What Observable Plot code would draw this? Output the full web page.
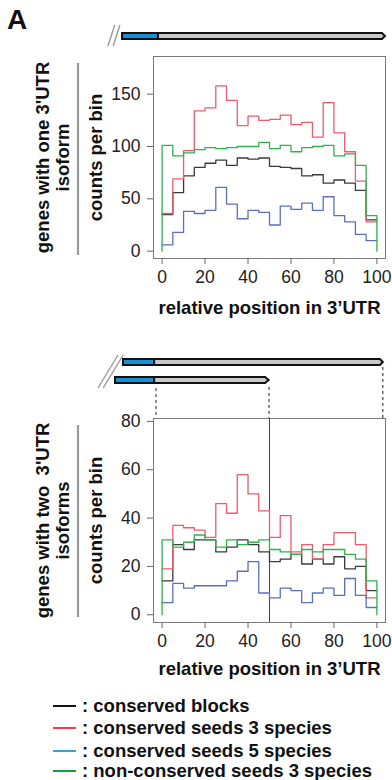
<!DOCTYPE html>
<html>
<head>
<meta charset="utf-8">
<script src="https://cdn.jsdelivr.net/npm/d3@7"></script>
<script src="https://cdn.jsdelivr.net/npm/@observablehq/plot@0.6"></script>
<style>
  html, body { margin: 0; padding: 0; background: #fff; }
  #root { position: relative; width: 392px; height: 780px; overflow: hidden;
          font-family: "Liberation Sans", Arial, Helvetica, sans-serif; color: #111; }
  .abs { position: absolute; }
  #panelA { left: 7px; top: 6px; font-size: 28px; font-weight: bold; line-height: 1; }
  .legrow { position: absolute; left: 53px; display: flex; align-items: center;
            font-size: 18.5px; font-weight: bold; white-space: nowrap; height: 22px; }
  .legline { width: 23px; height: 2px; margin-right: 6px; }
</style>
</head>
<body>
<div id="root">
  <div id="panelA" class="abs">A</div>
  <div id="topPlot" class="abs" style="left:0;top:0"></div>
  <div id="botPlot" class="abs" style="left:0;top:330px"></div>
  <div id="legend"></div>
</div>
<script>
// ---------- data ----------
const binStart = [0, 5, 10, 15, 20, 25, 30, 35, 40, 45, 50, 55, 60, 65, 70, 75, 80, 85, 90, 95];
const binEnd = 100;

const seriesNames = ["conserved blocks", "conserved seeds 3 species", "conserved seeds 5 species", "non-conserved seeds 3 species"];
const lineColors = ["#3a3a3a", "#f25a6a", "#5b6fc2", "#2db24c"];
const legendColors = ["#111111", "#f03c4c", "#2ea6e2", "#10a040"];

// genes with one 3'UTR isoform
const oneBlocks = [35, 56, 72, 80, 84, 87, 82, 89, 88, 89, 81, 80, 79, 72, 73, 65, 68, 65, 58, 30];
const oneSeeds3 = [36, 69, 96, 134, 137, 158, 144, 120, 129, 125, 126, 130, 121, 123, 109, 142, 113, 95, 67, 28];
const oneSeeds5 = [6, 18, 38, 36, 39, 61, 45, 31, 39, 37, 25, 43, 40, 46, 39, 52, 34, 28, 16, 10];
const oneNonCons = [101, 91, 94, 97, 99, 98, 99, 100, 100, 104, 98, 101, 95, 99, 100, 101, 91, 93, 82, 34];

// genes with two 3'UTR isoforms
const twoBlocks = [14, 29, 27, 31, 31, 26, 28, 31, 29, 26, 22, 23, 25, 21, 23, 21, 24, 19, 20, 10];
const twoSeeds3 = [19, 37, 36, 35, 32, 46, 42, 58, 50, 43, 32, 41, 26, 29, 23, 29, 34, 34, 29, 7];
const twoSeeds5 = [5, 13, 11, 12, 12, 12, 14, 18, 22, 9, 7, 11, 10, 5, 9, 11, 8, 15, 8, 3];
const twoNonCons = [31, 28, 30, 33, 31, 28, 31, 29, 30, 31, 27, 26, 25, 27, 26, 27, 27, 25, 23, 14];

const xTicks = [0, 20, 40, 60, 80, 100];
const yTicksOne = [0, 50, 100, 150];
const yTicksTwo = [0, 20, 40, 60, 80];
const xLabel = "relative position in 3\u2019UTR";
const yLabel = "counts per bin";
const groupOne = ["genes with one 3'UTR", "isoform"];
const groupTwo = ["genes with two  3'UTR", "isoforms"];
const isoformSplit = 50;

// ---------- helpers ----------
function steps(values, name, closeToZero) {
  const rows = [];
  if (closeToZero) rows.push({x: binStart[0], y: 0, s: name});
  values.forEach((v, i) => rows.push({x: binStart[i], y: v, s: name}));
  rows.push({x: binEnd, y: values[values.length - 1], s: name});
  if (closeToZero) rows.push({x: binEnd, y: 0, s: name});
  return rows;
}
function panelData(arrs) {
  return arrs.flatMap((a, k) => steps(a, seriesNames[k], k === 3));
}

const FONT = "'Liberation Sans', Arial, Helvetica, sans-serif";

// gene model drawing (in x-data units; vertical offsets relative to the frame top)
function geneModel(bars, slashes, dashes) {
  return (index, scales, values, dims) => {
    const x = scales.x;
    const t = dims.marginTop;
    const g = d3.create("svg:g");
    for (const s of slashes) {
      g.append("line").attr("x1", x(s[0])).attr("y1", t + s[1]).attr("x2", x(s[2])).attr("y2", t + s[3])
        .attr("stroke", "#9a9a9a").attr("stroke-width", 1.4);
    }
    for (const d of dashes) {
      g.append("line").attr("x1", x(d[0])).attr("x2", x(d[0])).attr("y1", t + d[1]).attr("y2", t)
        .attr("stroke", "#222").attr("stroke-width", 1).attr("stroke-dasharray", "3,3");
    }
    for (const b of bars) {
      const [xs, xb, xg, xt, yo] = b;
      const y0 = t + yo, y1 = y0 + 6, ym = y0 + 3;
      g.append("path")
        .attr("d", `M${x(xb)},${y0}L${x(xg)},${y0}L${x(xt)},${ym}L${x(xg)},${y1}L${x(xb)},${y1}Z`)
        .attr("fill", "#c8c8c8").attr("stroke", "#111").attr("stroke-width", 2).attr("stroke-linejoin", "miter");
      g.append("rect").attr("x", x(xs)).attr("y", y0).attr("width", x(xb) - x(xs)).attr("height", 6)
        .attr("fill", "#1a8fd2").attr("stroke", "#111").attr("stroke-width", 2);
    }
    return g.node();
  };
}
// vertical gray separator next to the group label
function separator(offTop, offBottom) {
  return (index, scales, values, dims) => {
    const g = d3.create("svg:g");
    g.append("line").attr("x1", 78).attr("x2", 78)
      .attr("y1", dims.marginTop + offTop).attr("y2", dims.height - dims.marginBottom - offBottom)
      .attr("stroke", "#999").attr("stroke-width", 2.2);
    return g.node();
  };
}

const labelStyle = {frameAnchor: "left", textAnchor: "middle", rotate: -90, lineAnchor: "bottom",
  fontWeight: "bold", fontSize: 18.5, fill: "#111"};

function panel(opts) {
  const data = panelData(opts.series);
  return Plot.plot({
    width: 392,
    height: opts.height,
    marginTop: opts.marginTop,
    marginBottom: opts.marginBottom,
    marginLeft: 153,
    marginRight: 7,
    style: {background: "transparent", fontFamily: FONT, fontSize: "17.5px", overflow: "visible", color: "#222"},
    x: {domain: [-4, 104]},
    y: {domain: opts.yDomain},
    marks: [
      Plot.frame({stroke: "#7a7a7a", strokeWidth: 1}),
      ...(opts.split ? [Plot.ruleX([opts.split], {stroke: "#444", strokeWidth: 1})] : []),
      Plot.axisX(xTicks, {label: null, tickSize: 6, tickPadding: 6, stroke: "#666", fill: "#222"}),
      Plot.axisY(opts.yTicks, {label: null, tickSize: 6, tickPadding: 7, stroke: "#666", fill: "#222"}),
      Plot.line(data, {x: "x", y: "y", z: "s", stroke: (d) => lineColors[seriesNames.indexOf(d.s)],
        curve: "step-after", strokeWidth: 1.3}),
      Plot.text([xLabel], {frameAnchor: "bottom", dy: opts.xLabelDy, lineAnchor: "bottom",
        fontWeight: "bold", fontSize: 18.5, fill: "#111"}),
      Plot.text([yLabel], {...labelStyle, dx: -52}),
      Plot.text([opts.group[0]], {...labelStyle, dx: -105}),
      Plot.text([opts.group[1]], {...labelStyle, dx: -85}),
      separator(opts.sepTop, opts.sepBottom),
      geneModel(opts.bars, opts.slashes, opts.dashes)
    ]
  });
}

document.getElementById("topPlot").append(panel({
  height: 330, marginTop: 56, marginBottom: 72,
  yDomain: [-7, 186], yTicks: yTicksOne,
  series: [oneBlocks, oneSeeds3, oneSeeds5, oneNonCons],
  xLabelDy: 55, group: groupOne, sepTop: 7, sepBottom: 3,
  bars: [[-18.4, -1.7, 102.6, 104, -23]],
  slashes: [[-25, -10, -21.8, -31], [-22.5, -10, -19.4, -31]],
  dashes: []
}));

document.getElementById("botPlot").append(panel({
  height: 360, marginTop: 88, marginBottom: 68,
  yDomain: [-3.2, 81.2], yTicks: yTicksTwo,
  series: [twoBlocks, twoSeeds3, twoSeeds5, twoNonCons],
  xLabelDy: 52, group: groupTwo, sepTop: 7, sepBottom: 5, split: isoformSplit,
  bars: [[-18, -3.5, 101.6, 103, -59], [-21.7, -3.5, 48.2, 49.8, -41]],
  slashes: [[-29.6, -30, -20.3, -63], [-27.2, -30, -17.9, -63]],
  dashes: [[-2.6, -30], [50, -31], [103, -51]]
}));

// ---------- legend ----------
const legendTops = [695, 717, 740, 760];
const leg = document.getElementById("legend");
seriesNames.forEach((name, i) => {
  const row = document.createElement("div");
  row.className = "legrow";
  row.style.top = legendTops[i] + "px";
  const ln = document.createElement("span");
  ln.className = "legline";
  ln.style.background = legendColors[i];
  const tx = document.createElement("span");
  tx.textContent = ": " + name;
  row.append(ln, tx);
  leg.append(row);
});
</script>
</body>
</html>
